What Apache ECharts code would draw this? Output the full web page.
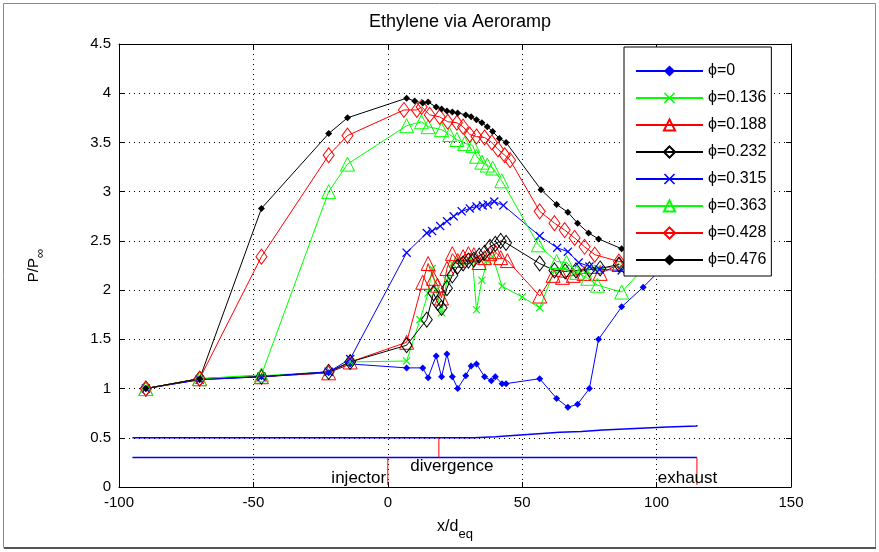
<!DOCTYPE html>
<html>
<head>
<meta charset="utf-8">
<script src="https://cdn.jsdelivr.net/npm/echarts@6/dist/echarts.min.js"></script>
<style>
html, body { margin: 0; padding: 0; background: #fff; }
#myChart { width: 879px; height: 552px; }
</style>
</head>
<body>
<div id="myChart"></div>
<script>
// 坐标轴范围 (min, max, interval)
const xRange = [-100, 150, 50];
const yRange = [0, 4.5, 0.5];

// 各当量比 phi 下的压力分布 [x/d_eq, P/P_inf]
const phi0 = [[-90, 1.0], [-70, 1.09], [-47, 1.12], [-22, 1.16], [-14, 1.25], [7, 1.21], [13, 1.21], [15, 1.11], [18, 1.33], [20, 1.12], [22, 1.35], [24, 1.12], [26, 1.0], [29, 1.13], [31, 1.23], [33, 1.25], [36, 1.12], [38.5, 1.08], [40, 1.12], [42.5, 1.05], [44, 1.05], [56.5, 1.10], [62.8, 0.9], [67, 0.81], [70.6, 0.84], [75, 1.0], [78.4, 1.5], [87, 1.83], [95, 2.03], [103, 2.25]];
const phi136 = [[-90, 1.0], [-70, 1.1], [-47, 1.13], [-22, 1.17], [-14, 1.27], [7, 1.28], [12, 1.7], [15, 1.97], [16.5, 2.22], [18, 2.0], [20, 1.77], [22, 2.1], [24, 2.27], [26, 2.3], [28, 2.28], [30, 2.32], [31.5, 2.3], [33, 1.8], [35, 2.1], [37, 2.3], [39, 2.34], [42.5, 2.04], [50, 1.93], [56.5, 1.82], [62, 2.2], [66, 2.22], [70, 2.18], [74, 2.2], [78, 2.22], [87, 2.24]];
const phi188 = [[-90, 1.0], [-70, 1.1], [-47, 1.12], [-22, 1.16], [-14, 1.27], [7, 1.47], [13, 2.08], [15, 2.27], [17, 2.12], [18.5, 2.05], [20, 1.92], [22, 2.22], [24, 2.37], [26, 2.3], [28, 2.34], [30, 2.37], [32, 2.36], [34, 2.28], [36, 2.33], [38, 2.37], [40, 2.39], [42, 2.33], [44.5, 2.3], [56.5, 1.94], [61.5, 2.15], [65, 2.13], [69, 2.15], [73, 2.17], [79, 2.17], [86, 2.26]];
const phi232 = [[-90, 1.0], [-70, 1.1], [-47, 1.12], [-22, 1.17], [-14, 1.27], [7, 1.44], [14.5, 1.7], [17, 1.97], [18.6, 1.87], [20, 1.82], [22, 2.02], [24, 2.15], [26, 2.24], [28, 2.27], [30, 2.3], [32, 2.31], [34, 2.35], [36, 2.38], [38, 2.44], [40, 2.47], [42, 2.5], [44, 2.48], [56.5, 2.27], [62, 2.2], [66, 2.19], [70, 2.2], [75, 2.21], [79, 2.22], [86, 2.26]];
const phi315 = [[-90, 1.0], [-70, 1.09], [-47, 1.12], [-22, 1.17], [-14, 1.3], [7, 2.38], [14.5, 2.58], [16.5, 2.6], [19.5, 2.65], [22, 2.7], [24.5, 2.75], [27.5, 2.8], [30.5, 2.83], [33, 2.85], [35.3, 2.86], [37.2, 2.87], [39.6, 2.9], [43, 2.86], [56.5, 2.55], [63, 2.43], [67, 2.39], [71, 2.28], [75, 2.24], [78.8, 2.21], [87, 2.2]];
const phi363 = [[-90, 1.0], [-70, 1.1], [-47, 1.14], [-22, 3.0], [-15, 3.28], [7, 3.67], [12.5, 3.71], [15, 3.66], [20, 3.63], [23, 3.58], [25.7, 3.53], [28.6, 3.49], [31.6, 3.47], [33, 3.36], [35, 3.3], [37, 3.27], [39, 3.24], [42.4, 3.11], [56, 2.46], [62.8, 2.29], [66.5, 2.28], [70.3, 2.18], [74.4, 2.12], [78, 2.05], [87, 1.98], [96, 2.25]];
const phi428 = [[-90, 1.0], [-70, 1.1], [-47, 2.34], [-22, 3.37], [-15, 3.57], [6, 3.83], [10.8, 3.83], [12.6, 3.86], [15.6, 3.78], [19.3, 3.76], [22.3, 3.71], [25.7, 3.7], [28, 3.66], [30.5, 3.58], [33, 3.56], [36, 3.55], [38.7, 3.5], [41, 3.43], [43.5, 3.37], [45.5, 3.32], [56.5, 2.8], [62, 2.68], [65.8, 2.61], [69.5, 2.53], [73.2, 2.44], [77, 2.36], [86, 2.29], [95, 2.27]];
const phi476 = [[-90, 1.0], [-70, 1.1], [-47, 2.83], [-22, 3.59], [-15, 3.75], [7, 3.95], [10, 3.92], [13, 3.9], [15, 3.91], [18, 3.86], [20, 3.84], [22, 3.82], [24, 3.81], [26, 3.8], [29, 3.78], [31, 3.76], [33, 3.73], [35, 3.7], [37, 3.66], [39, 3.61], [41.5, 3.54], [44, 3.5], [57, 3.02], [62.8, 2.87], [67, 2.79], [70.6, 2.68], [74.7, 2.58], [78.4, 2.52], [87, 2.42], [95, 2.36]];

// 燃烧室示意线
const wallTop = [[-95, 0.5], [25, 0.5], [32, 0.51], [40, 0.525], [48, 0.54], [56, 0.555], [64, 0.565], [72, 0.58], [80, 0.59], [88, 0.6], [96, 0.61], [104, 0.62], [115, 0.63]];
const wallBottom = [[-95, 0.3], [115, 0.3]];
const injectorLine = [[0, 0.3], [0, 0.02]];
const divergenceLine = [[19, 0.5], [19, 0.3]];
const exhaustLine = [[115, 0.3], [115, 0.02]];
const annotations = [[-10.8, 0.09, 'injector'], [23.8, 0.21, 'divergence'], [111.5, 0.09, 'exhaust']];

const FONT = 'Liberation Sans';
const xMark = 'path://M0,1L1,0L5,4L9,0L10,1L6,5L10,9L9,10L5,6L1,10L0,9L4,5Z';

function curve (name, data, color, symbol, size, hollow) {
  return {
    name: name,
    type: 'line',
    data: data,
    symbol: symbol,
    symbolSize: size,
    lineStyle: { color: color, width: 1 },
    itemStyle: hollow
      ? { color: 'rgba(255,255,255,0)', borderColor: color, borderWidth: 1 }
      : { color: color, borderWidth: 0 },
    emphasis: { disabled: true },
    silent: true,
  };
}

function guide (data, color, width, step) {
  return {
    type: 'line',
    data: data,
    symbol: 'none',
    step: step || false,
    lineStyle: { color: color, width: width },
    silent: true,
    z: 1,
  };
}

const myChart = echarts.init(document.getElementById('myChart'));

const axisCommon = {
  type: 'value',
  axisLine: { show: true, onZero: false, lineStyle: { color: '#000', width: 1 } },
  axisTick: { show: true, inside: true, length: 5, lineStyle: { color: '#000' } },
};

const option = {
  animation: false,
  backgroundColor: '#fff',
  title: {
    text: 'Ethylene via Aeroramp',
    left: 455,
    top: 8,
    textAlign: 'center',
    textStyle: { fontFamily: FONT, fontSize: 18, fontWeight: 'normal', color: '#000' },
  },
  legend: {
    orient: 'vertical',
    left: 624,
    top: 47,
    itemWidth: 67,
    itemHeight: 14,
    itemGap: 11,
    padding: [16, 5, 8, 11],
    backgroundColor: '#fff',
    borderColor: '#000',
    borderWidth: 1,
    borderRadius: 0,
    textStyle: { fontFamily: FONT, fontSize: 16, color: '#000' },
    data: ['ϕ=0', 'ϕ=0.136', 'ϕ=0.188', 'ϕ=0.232', 'ϕ=0.315', 'ϕ=0.363', 'ϕ=0.428', 'ϕ=0.476'],
  },
  grid: { left: 119, right: 88, top: 44, bottom: 65 },
  xAxis: [
    Object.assign({}, axisCommon, {
      min: xRange[0], max: xRange[1], interval: xRange[2],
      position: 'bottom',
      axisLabel: { fontFamily: FONT, fontSize: 15, color: '#000', margin: 8 },
      splitLine: { show: true, lineStyle: { color: '#000', type: [1, 4], width: 1 } },
      name: '{a|x/d}{b|eq}',
      nameLocation: 'middle',
      nameGap: 32,
      nameTextStyle: {
        rich: {
          a: { fontFamily: FONT, fontSize: 16, color: '#000', verticalAlign: 'top', lineHeight: 22 },
          b: { fontFamily: FONT, fontSize: 13, color: '#000', verticalAlign: 'bottom', lineHeight: 22 },
        },
      },
    }),
    Object.assign({}, axisCommon, {
      min: xRange[0], max: xRange[1], interval: xRange[2],
      position: 'top',
      axisLabel: { show: false },
      splitLine: { show: false },
    }),
  ],
  yAxis: [
    Object.assign({}, axisCommon, {
      min: yRange[0], max: yRange[1], interval: yRange[2],
      position: 'left',
      axisLabel: { fontFamily: FONT, fontSize: 15, color: '#000', margin: 8 },
      splitLine: { show: true, lineStyle: { color: '#000', type: [1, 4], width: 1 } },
      name: '{a|P/P}{b|∞}',
      nameLocation: 'middle',
      nameRotate: 90,
      nameGap: 72,
      nameTextStyle: {
        rich: {
          a: { fontFamily: FONT, fontSize: 15, color: '#000', verticalAlign: 'top', lineHeight: 21 },
          b: { fontFamily: FONT, fontSize: 13, color: '#000', verticalAlign: 'bottom', lineHeight: 21 },
        },
      },
    }),
    Object.assign({}, axisCommon, {
      min: yRange[0], max: yRange[1], interval: yRange[2],
      position: 'right',
      axisLabel: { show: false },
      splitLine: { show: false },
    }),
  ],
  graphic: [
    {
      type: 'rect',
      shape: { x: 3.5, y: 3.5, width: 872, height: 544 },
      style: { fill: 'none', stroke: '#8a8a8a', lineWidth: 1 },
      silent: true,
    },
    {
      type: 'line',
      shape: { x1: 4, y1: 548, x2: 876, y2: 548 },
      style: { stroke: '#555', lineWidth: 2 },
      silent: true,
    },
  ],
  series: [
    guide(wallTop, '#0000ff', 1.5, 'end'),
    guide(wallBottom, '#0000ff', 1.5),
    guide(injectorLine, '#ff0000', 1),
    guide(divergenceLine, '#ff0000', 1),
    guide(exhaustLine, '#ff0000', 1),
    {
      // 示意线文字标注
      type: 'scatter',
      data: annotations,
      symbolSize: 1,
      itemStyle: { color: 'rgba(0,0,0,0)', opacity: 1 },
      label: {
        show: true,
        position: 'inside',
        formatter: (p) => p.data[2],
        fontFamily: FONT,
        fontSize: 17,
        color: '#000',
        opacity: 1,
        textBorderWidth: 0,
      },
      silent: true,
      z: 1,
    },
    curve('ϕ=0', phi0, '#0000ff', 'diamond', 7, false),
    curve('ϕ=0.136', phi136, '#00ff00', xMark, 8, false),
    curve('ϕ=0.188', phi188, '#ff0000', 'triangle', 14, true),
    curve('ϕ=0.232', phi232, '#000000', 'diamond', [11, 15], true),
    curve('ϕ=0.315', phi315, '#0000ff', xMark, 9, false),
    curve('ϕ=0.363', phi363, '#00ff00', 'triangle', 14, true),
    curve('ϕ=0.428', phi428, '#ff0000', 'diamond', [11, 15], true),
    curve('ϕ=0.476', phi476, '#000000', 'diamond', 7, false),
  ],
};

myChart.setOption(option);
</script>
</body>
</html>
